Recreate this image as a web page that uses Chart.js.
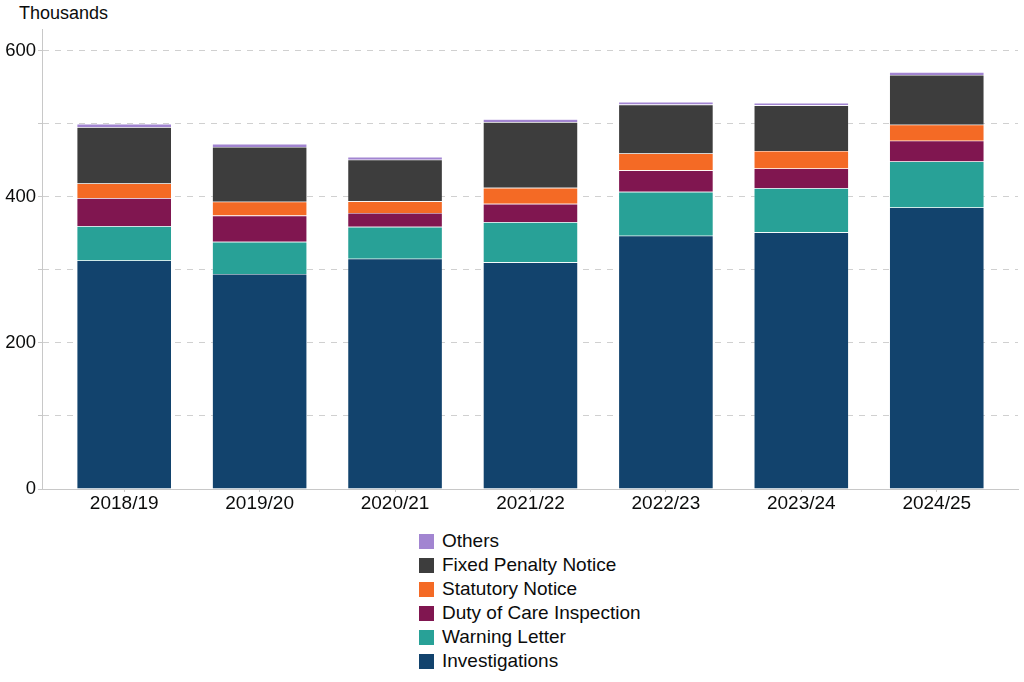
<!DOCTYPE html>
<html lang="en">
<head>
    <meta charset="UTF-8">
    <title>Enforcement actions</title>
    <script src="https://cdn.jsdelivr.net/npm/chart.js"></script>
    <style>
        body { margin: 0; background: #fff; font-family: Arial, "Liberation Sans", sans-serif; }
        .wrap { position: relative; width: 1024px; height: 682px; }
        .chart-box { position: absolute; left: 0; top: 0; width: 1024px; height: 525px; }
        .unit { position: absolute; left: 19px; top: 3px; font-size: 18px; color: #0b0c0c; }
        .legend { position: absolute; left: 419px; top: 529px; font-size: 19px; color: #0b0c0c; }
        .legend-item { display: flex; align-items: center; height: 24px; }
        .legend-item span.box { width: 15px; height: 15px; margin-right: 8px; }
    </style>
</head>
<body>
<div class="wrap">
    <div class="unit">Thousands</div>
    <div class="chart-box"><canvas id="actionsChart"></canvas></div>
    <div class="legend" id="legend"></div>
</div>

<script>
    // values in thousands
    const years = ['2018/19', '2019/20', '2020/21', '2021/22', '2022/23', '2023/24', '2024/25'];
    const investigations = [313, 294.5, 315.5, 310.5, 347, 351.5, 385.5];
    const warningLetter = [47, 44, 43.5, 55, 60, 60.5, 63];
    const dutyOfCare = [38.5, 36, 19, 25, 29.5, 27, 28.5];
    const statutoryNotice = [20, 19, 16, 22, 23, 24, 22];
    const fixedPenalty = [77, 75, 57, 90, 67, 62.5, 68];
    const others = [4.5, 4, 3.7, 4, 3.7, 3.2, 4];
    const yTicks = [0, 200, 400, 600];

    const series = [
        { label: 'Investigations', values: investigations, color: '#12436D' },
        { label: 'Warning Letter', values: warningLetter, color: '#28A197' },
        { label: 'Duty of Care Inspection', values: dutyOfCare, color: '#801650' },
        { label: 'Statutory Notice', values: statutoryNotice, color: '#F46A25' },
        { label: 'Fixed Penalty Notice', values: fixedPenalty, color: '#3D3D3D' },
        { label: 'Others', values: others, color: '#A285D1' }
    ];

    const datasets = series.map(s => ({
        label: s.label,
        data: s.values.map((v, i) => ({ x: i, y: v })),
        backgroundColor: s.color,
        borderColor: 'rgba(255,255,255,0.35)',
        borderWidth: 0.6,
        barPercentage: 0.7,
        categoryPercentage: 1.0
    }));

    const textColor = '#0b0c0c';
    const fontFamily = 'Arial, "Liberation Sans", sans-serif';

    const config = {
        type: 'bar',
        data: { datasets: datasets },
        options: {
            responsive: true,
            maintainAspectRatio: false,
            animation: false,
            layout: { padding: { top: 29, right: 6, left: 0, bottom: 0 } },
            scales: {
                x: {
                    type: 'linear',
                    stacked: true,
                    offset: false,
                    min: -0.607,
                    max: 6.6,
                    grid: { display: true, offset: false, drawOnChartArea: false, drawTicks: true, tickLength: 3, tickColor: '#c8c8c8' },
                    border: { color: '#c8c8c8', width: 1 },
                    ticks: {
                        stepSize: 1,
                        includeBounds: false,
                        autoSkip: false,
                        maxRotation: 0,
                        color: textColor,
                        font: { size: 19, family: fontFamily },
                        padding: 0,
                        callback: v => years[v] !== undefined ? years[v] : ''
                    },
                    afterFit: scale => { scale.height = 36; }
                },
                y: {
                    stacked: true,
                    min: 0,
                    max: 630,
                    grid: {
                        color: ctx => ctx.tick && ctx.tick.value === 0 ? 'rgba(0,0,0,0)' : '#d0d0d0',
                        tickColor: '#c8c8c8',
                        tickLength: 4,
                        lineWidth: 1
                    },
                    border: { color: '#c8c8c8', width: 1, dash: [6, 6], dashOffset: 0 },
                    ticks: {
                        stepSize: 100,
                        includeBounds: false,
                        color: textColor,
                        font: { size: 18.5, family: fontFamily },
                        padding: 2,
                        callback: v => yTicks.includes(v) ? v : ''
                    },
                    afterFit: scale => { scale.width = 42; }
                }
            },
            plugins: {
                legend: { display: false },
                tooltip: { enabled: false }
            }
        },
        plugins: [{
            // solid y axis line, dashed grid only
            id: 'axisLine',
            afterDraw(chart) {
                const { ctx, chartArea } = chart;
                ctx.save();
                ctx.strokeStyle = '#c8c8c8';
                ctx.lineWidth = 1;
                ctx.beginPath();
                ctx.moveTo(chartArea.left + 0.5, chartArea.top);
                ctx.lineTo(chartArea.left + 0.5, chartArea.bottom);
                ctx.stroke();
                ctx.restore();
            }
        }]
    };

    const ctx = document.getElementById('actionsChart').getContext('2d');
    const chart = new Chart(ctx, config);

    // legend, top to bottom in reverse stack order
    const legendEl = document.getElementById('legend');
    series.slice().reverse().forEach(s => {
        const item = document.createElement('div');
        item.className = 'legend-item';
        item.innerHTML = '<span class="box" style="background:' + s.color + '"></span><span>' + s.label + '</span>';
        legendEl.appendChild(item);
    });
</script>
</body>
</html>
